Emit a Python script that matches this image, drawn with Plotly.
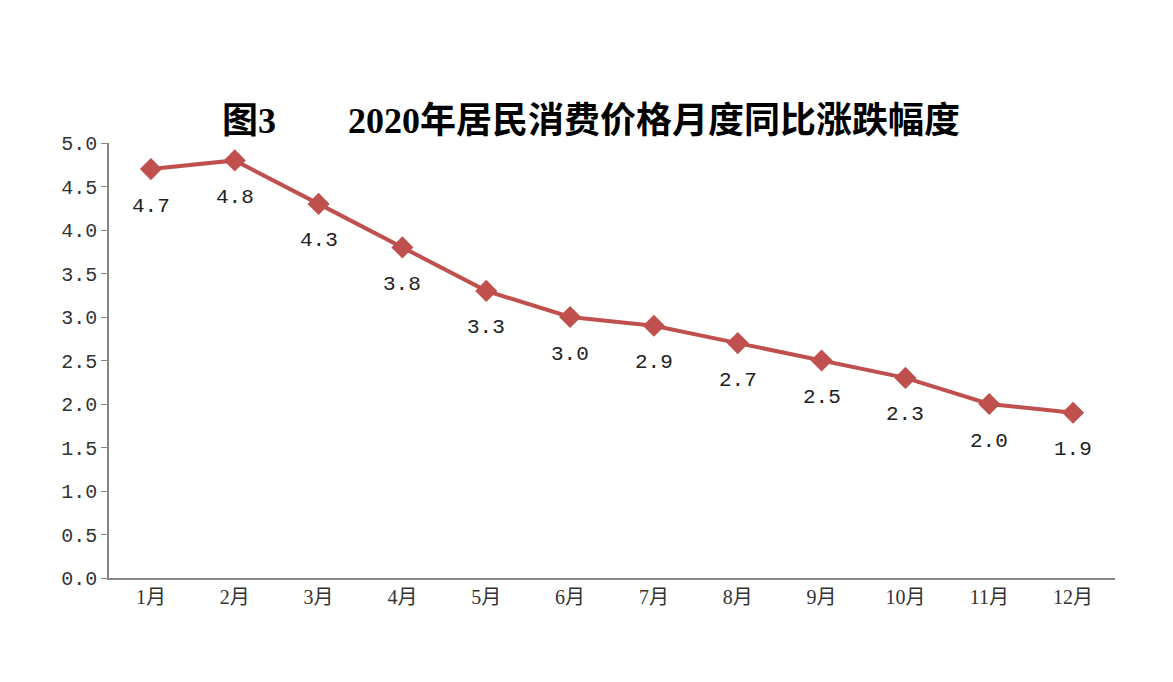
import plotly.graph_objects as go

months = ["1月", "2月", "3月", "4月", "5月", "6月", "7月", "8月", "9月", "10月", "11月", "12月"]
values = [4.7, 4.8, 4.3, 3.8, 3.3, 3.0, 2.9, 2.7, 2.5, 2.3, 2.0, 1.9]
title_text = "图3　　2020年居民消费价格月度同比涨跌幅度"
yticks = [0.0, 0.5, 1.0, 1.5, 2.0, 2.5, 3.0, 3.5, 4.0, 4.5, 5.0]

font_main = "Liberation Serif, Noto Sans CJK SC, serif"
font_num = "Liberation Mono, Noto Sans CJK SC, monospace"
line_color = "#C0504D"

fig = go.Figure()
fig.add_trace(go.Scatter(
    x=months, y=values, mode="lines+markers",
    line=dict(color=line_color, width=4),
    marker=dict(symbol="diamond", size=17, color=line_color),
    hoverinfo="skip", showlegend=False,
))

for m, v in zip(months, values):
    fig.add_annotation(x=m, y=v, text=f"{v:.1f}", showarrow=False,
                       yshift=-37, font=dict(family=font_num, size=21, color="#222"))

fig.update_layout(
    width=1173, height=682,
    margin=dict(l=101, r=66, t=135, b=112),
    paper_bgcolor="white", plot_bgcolor="white",
    title=dict(text=title_text, x=0.497, xanchor="center", y=0.835, yanchor="middle",
               font=dict(family=font_main, size=36, color="black", weight="bold")),
    xaxis=dict(type="category", range=[-0.5, 11.5], showline=True, linecolor="#868686",
               linewidth=1.5, ticks="", showgrid=False, zeroline=False,
               tickfont=dict(family=font_main, size=20, color="#333")),
    yaxis=dict(range=[0, 5], tickvals=yticks, ticktext=[f"{t:.1f}" for t in yticks],
               showline=True, linecolor="#868686", linewidth=1.5, ticks="outside",
               ticklen=6, tickcolor="#868686", showgrid=False, zeroline=False,
               tickfont=dict(family=font_num, size=20, color="#333")),
)

fig.write_html("out.html")
